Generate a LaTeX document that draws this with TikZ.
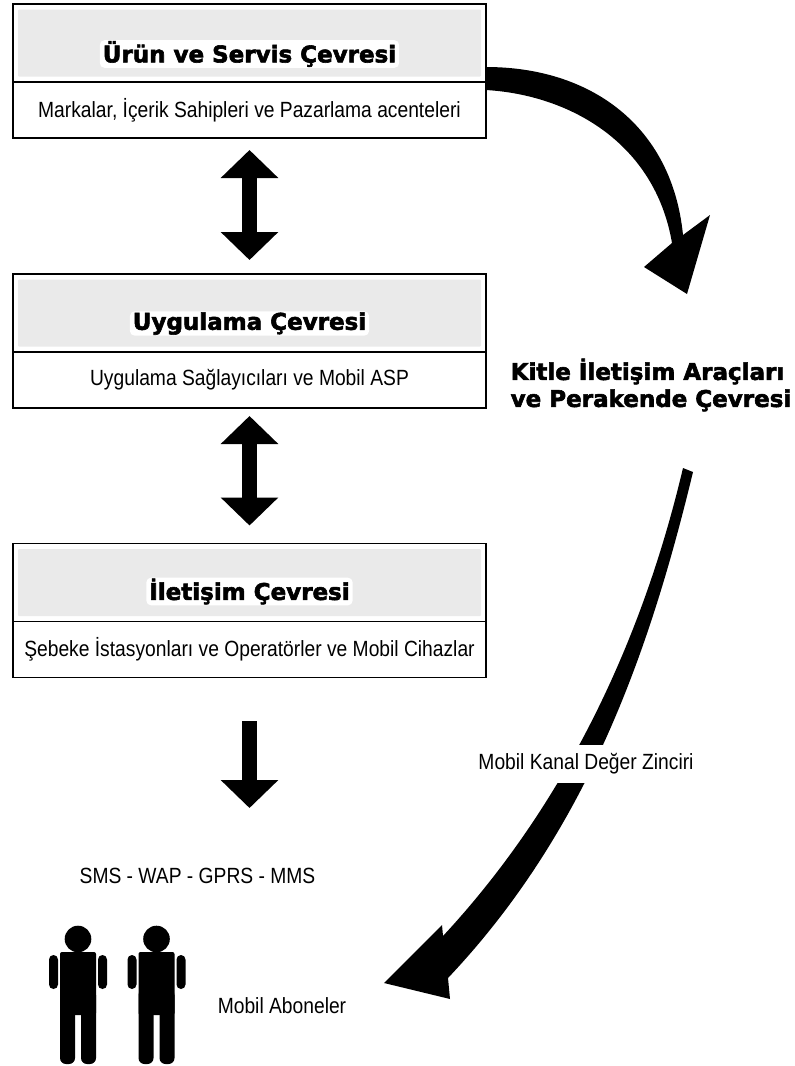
\documentclass[tikz,border=0pt]{standalone}
\usepackage{fontspec}
\setmainfont[FakeStretch=0.875]{Liberation Sans}
\newfontfamily\titlefont[BoldFeatures={FakeBold=2.5}]{DejaVu Sans}
\usetikzlibrary{positioning,arrows.meta}
\definecolor{headcolor}{RGB}{234,234,234}

\begin{document}
\begin{tikzpicture}[x=1pt,y=-1pt]
\tikzset{
  base/.style={draw, line width=1.5pt, minimum width=473pt, outer sep=0pt, inner sep=0pt},
  head/.style={base, fill=white, minimum height=78pt},
  body/.style={base, fill=white, minimum height=56pt, font=\fontsize{22}{26}\selectfont},
  panel/.style={fill=headcolor, rounded corners=1pt, minimum width=463pt, minimum height=67pt, inner sep=0pt},
  title/.style={font=\titlefont\bfseries\fontsize{23}{27}\selectfont, inner sep=0pt},
  glow/.style={title, fill=white, rounded corners=5pt, inner xsep=3pt, inner ysep=1pt},
  plain/.style={font=\fontsize{22}{26}\selectfont, inner sep=0pt},
  both/.style={line width=15pt, {Triangle[width=56pt,length=28pt]}-{Triangle[width=56pt,length=28pt]}},
  down/.style={line width=15pt, -{Triangle[width=56pt,length=28pt]}},
  person/.pic={
    \fill (0,0) circle (13.3pt);
    \fill[rounded corners=2pt] (-18,13) rectangle (18,76);
    \fill[rounded corners=6pt] (-18,50) rectangle (-3,125);
    \fill[rounded corners=6pt] (3,50) rectangle (18,125);
    \fill[rounded corners=4.5pt] (-29,16) rectangle (-20,50);
    \fill[rounded corners=4.5pt] (20,16) rectangle (29,50);
  },
}

% the three boxes
\node [head] (head1) at (249.5,43) {};
\node [body,below=0pt of head1] (body1) {Markalar, İçerik Sahipleri ve Pazarlama acenteleri};
\node [head,below=136pt of body1] (head2) {};
\node [body,below=0pt of head2] (body2) {Uygulama Sağlayıcıları ve Mobil ASP};
\node [head,below=135.5pt of body2] (head3) {};
\node [body,below=0pt of head3] (body3) {Şebeke İstasyonları ve Operatörler ve Mobil Cihazlar};

\node [panel] (panel1) at (head1) {};
\node [panel] (panel2) at (head2) {};
\node [panel] (panel3) at (head3) {};
\node [glow] (title1) at ([yshift=-11pt]head1.center) {Ürün ve Servis Çevresi};
\node [glow] (title2) at ([yshift=-10.5pt]head2.center) {Uygulama Çevresi};
\node [glow] (title3) at ([yshift=-9pt]head3.center) {İletişim Çevresi};

% free texts
\node [plain] (sms) at (197.5,876) {SMS - WAP - GPRS - MMS};
\node [plain] (subs) at (282,1006) {Mobil Aboneler};
\node [title,align=left] (media) at (651,385) {Kitle İletişim Araçları\\ve Perakende Çevresi};

% block arrows
\draw [both,shorten <=12pt,shorten >=14pt] (body1.south) -- (head2.north);
\draw [both,shorten <=8pt,shorten >=18pt] (body2.south) -- (head3.north);
\draw [down,shorten <=43.5pt,shorten >=60pt] (body3.south) -- (sms.north -| body3.south);

% curved arrows
\coordinate (c1) at (head1.south east);
\fill (c1) ++(0,-15) .. controls (590,67) and (672,125) .. (683,235)
  -- (710,215) -- (687,294) -- (644,267) -- (672,243)
  .. controls (655,143) and (570,95) .. (486,90) -- cycle;
\fill (693,472) .. controls (650,650) and (588,830) .. (448,978)
  -- (450,999) -- (384,983) -- (442,925) -- (443,936)
  .. controls (560,810) and (640,650) .. (683,468) -- cycle;
\node [plain,fill=white,minimum height=38pt] (chain) at (586,764) {Mobil Kanal Değer Zinciri};

% subscribers
\foreach \x in {78,156.5}
  \pic at (\x,939) {person};

\useasboundingbox (0,0) rectangle (795,1066);
\end{tikzpicture}
\end{document}
